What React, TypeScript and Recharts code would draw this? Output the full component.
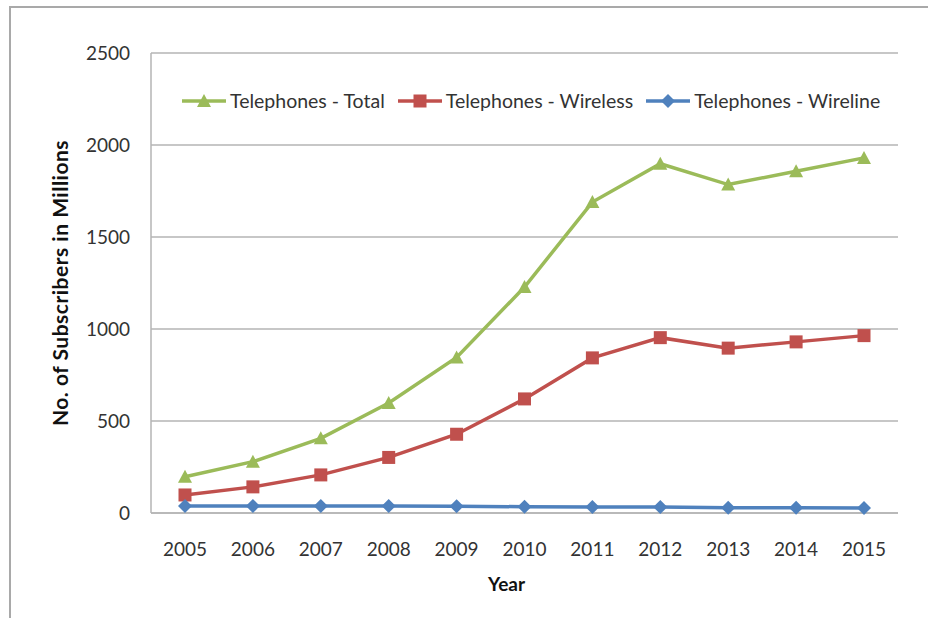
import React from 'react';
import { LineChart, Line, XAxis, YAxis, CartesianGrid, Legend } from 'recharts';

const years = ['2005', '2006', '2007', '2008', '2009', '2010', '2011', '2012', '2013', '2014', '2015'];
const total = [197, 279, 406, 598, 845, 1228, 1690, 1898, 1785, 1857, 1930];
const wireless = [98, 142, 207, 302, 428, 620, 843, 953, 896, 930, 964];
const wireline = [38, 38, 38, 38, 37, 34, 33, 32, 28, 28, 27];
const yTicks = [0, 500, 1000, 1500, 2000, 2500];

const series = [
  { key: 'total', name: 'Telephones - Total', color: '#9BBB59', shape: 'triangle' },
  { key: 'wireless', name: 'Telephones - Wireless', color: '#C0504D', shape: 'square' },
  { key: 'wireline', name: 'Telephones - Wireline', color: '#4F81BD', shape: 'diamond' },
];

const data = years.map((year, i) => ({
  year,
  total: total[i],
  wireless: wireless[i],
  wireline: wireline[i],
}));

const FONT = 'Lato, "Open Sans", sans-serif';
const GRID = '#b5b5b5';

function Marker({ cx, cy, shape, color }: any) {
  if (cx == null || cy == null) return null;
  if (shape === 'triangle') {
    return <polygon points={`${cx},${cy - 7} ${cx + 7},${cy + 6} ${cx - 7},${cy + 6}`} fill={color} />;
  }
  if (shape === 'square') {
    return <rect x={cx - 6.5} y={cy - 6.5} width={13} height={13} fill={color} />;
  }
  return <polygon points={`${cx},${cy - 7} ${cx + 7},${cy} ${cx},${cy + 7} ${cx - 7},${cy}`} fill={color} />;
}

const makeDot = (shape: string, color: string) => (props: any) => (
  <Marker key={`${shape}-${props.index}`} cx={props.cx} cy={props.cy} shape={shape} color={color} />
);

function LegendBox() {
  return (
    <div style={{ display: 'flex', alignItems: 'center', fontFamily: FONT, fontSize: 19.5, color: '#333' }}>
      {series.map((s) => (
        <div key={s.key} style={{ display: 'flex', alignItems: 'center', marginRight: 13 }}>
          <svg width={44} height={16} style={{ marginRight: 4 }}>
            <line x1={0} y1={8} x2={44} y2={8} stroke={s.color} strokeWidth={3.5} />
            <Marker cx={22} cy={8} shape={s.shape} color={s.color} />
          </svg>
          <span>{s.name}</span>
        </div>
      ))}
    </div>
  );
}

export default function App() {
  return (
    <div style={{ position: 'absolute', left: 0, top: 0, width: 928, height: 618, overflow: 'hidden', background: '#fff' }}>
      <div
        style={{
          position: 'absolute',
          left: 9,
          top: 6,
          width: 1000,
          height: 1000,
          borderLeft: '2px solid #a9a9a9',
          borderTop: '2px solid #a9a9a9',
        }}
      />
      <LineChart width={928} height={618} data={data} margin={{ top: 53, right: 30, bottom: 0, left: 0 }}>
        <CartesianGrid vertical={false} stroke={GRID} strokeWidth={1.5} />
        <XAxis
          dataKey="year"
          height={105}
          padding={{ left: 34, right: 34 }}
          axisLine={{ stroke: GRID, strokeWidth: 1.5 }}
          tickLine={false}
          tickSize={0}
          tickMargin={30}
          tick={{ fontFamily: FONT, fontSize: 19, fill: '#333' }}
          label={{
            value: 'Year',
            position: 'insideBottom',
            offset: 27,
            dx: -18,
            style: { fontFamily: FONT, fontSize: 19, fontWeight: 700, fill: '#111' },
          }}
        />
        <YAxis
          width={151}
          domain={[0, 2500]}
          ticks={yTicks}
          interval={0}
          axisLine={{ stroke: GRID, strokeWidth: 1.5 }}
          tickLine={false}
          tickSize={0}
          tickMargin={21}
          tick={{ fontFamily: FONT, fontSize: 19, fill: '#333' }}
          label={{
            value: 'No. of Subscribers in Millions',
            angle: -90,
            position: 'insideLeft',
            offset: 61,
            style: { fontFamily: FONT, fontSize: 21, fontWeight: 700, fill: '#111', textAnchor: 'middle', letterSpacing: 0.5 },
          }}
        />
        <Legend
          layout="horizontal"
          verticalAlign="middle"
          align="center"
          content={() => <LegendBox />}
          wrapperStyle={{ top: 89, left: 182, width: 740, height: 24 }}
        />
        {series.map((s) => (
          <Line
            key={s.key}
            type="linear"
            dataKey={s.key}
            name={s.name}
            stroke={s.color}
            strokeWidth={3.5}
            dot={makeDot(s.shape, s.color)}
            activeDot={false}
            isAnimationActive={false}
          />
        ))}
      </LineChart>
    </div>
  );
}
